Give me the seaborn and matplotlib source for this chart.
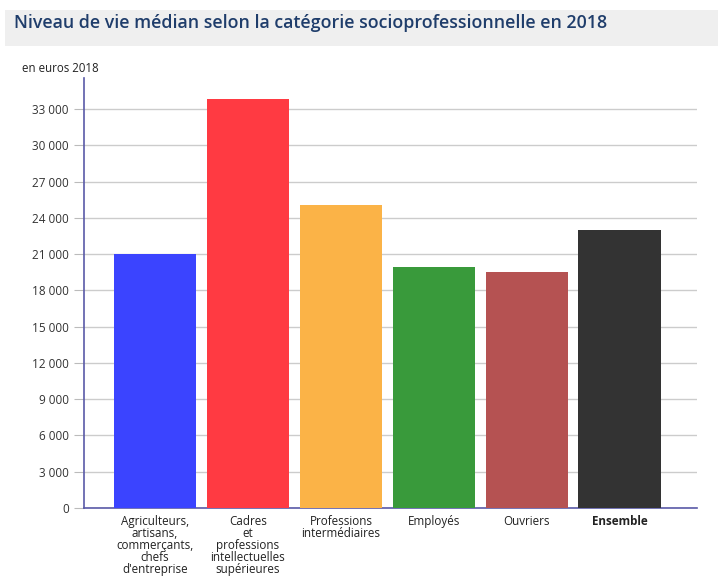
import matplotlib
matplotlib.use("Agg")
import matplotlib.pyplot as plt
import matplotlib.patches as mpatches
from matplotlib.ticker import FuncFormatter, MultipleLocator
import seaborn as sns
import pandas as pd

# ── Data ─────────────────────────────────────────────
categories = [
    "Agriculteurs,\nartisans,\ncommerçants,\nchefs\nd'entreprise",
    "Cadres\net\nprofessions\nintellectuelles\nsupérieures",
    "Professions\nintermédiaires",
    "Employés",
    "Ouvriers",
    "Ensemble",
]
values = [21050, 33800, 25100, 19950, 19500, 23000]
colors = ["#3b44ff", "#ff3a42", "#fbb347", "#399a3b", "#b55252", "#333333"]

df = pd.DataFrame({"cat": categories, "val": values})

# ── Style ────────────────────────────────────────────
sns.set_style("white")
plt.rcParams["font.family"] = ["Open Sans", "DejaVu Sans"]

fig = plt.figure(figsize=(7.18, 5.76), dpi=100)
ax = fig.add_axes([84 / 718, 1 - 508 / 576, (697 - 84) / 718, (508 - 78) / 576])

sns.barplot(data=df, x="cat", y="val", hue="cat", palette=colors, saturation=1,
            legend=False, width=0.89, linewidth=0, ax=ax, zorder=3)

ax.set_ylim(0, 35570)
ax.set_xlim(-0.764, 5.83)
ax.yaxis.set_major_locator(MultipleLocator(3000))
ax.yaxis.set_major_formatter(FuncFormatter(lambda v, p: f"{int(v):,}".replace(",", " ")))
ax.grid(axis="y", color="#cccccc", linewidth=1, zorder=0)
ax.set_xlabel("")
ax.set_ylabel("")

for side in ["top", "right"]:
    ax.spines[side].set_visible(False)
for side in ["left", "bottom"]:
    ax.spines[side].set_color("#5a5aa8")
    ax.spines[side].set_linewidth(1.2)

ax.tick_params(axis="y", left=True, length=7, width=0.8, color="#bbbbbb",
               labelsize=8.5, labelcolor="#333333", pad=4)
ax.tick_params(axis="x", bottom=False, labelsize=8.4, labelcolor="#222222", pad=1.5)
for lbl in ax.get_xticklabels():
    lbl.set_linespacing(0.9)
    lbl.set_verticalalignment("top")
ax.get_xticklabels()[-1].set_fontweight("bold")

# ── Title band ───────────────────────────────────────
fig.patches.append(mpatches.Rectangle((5 / 718, 1 - 46 / 576), 713 / 718, 36 / 576,
                                      transform=fig.transFigure, facecolor="#efefef",
                                      edgecolor="none", zorder=0))
fig.text(14 / 718, 1 - 23 / 576,
         "Niveau de vie médian selon la catégorie socioprofessionnelle en 2018",
         fontsize=12.8, fontweight="semibold", color="#1f3d6b", va="center", ha="left")
fig.text(22 / 718, 1 - 68 / 576, "en euros 2018", fontsize=8.3, color="#222222",
         va="center", ha="left")

plt.savefig("out.png", dpi=100)
plt.close()
